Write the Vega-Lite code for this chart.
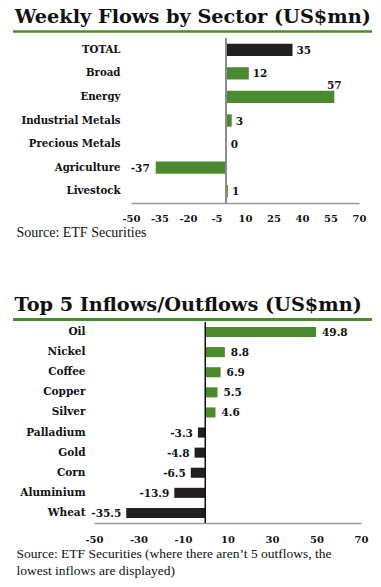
{
  "$schema": "https://vega.github.io/schema/vega-lite/v6.json",
  "background": "white",
  "padding": {"left": 11, "top": 7, "right": 5, "bottom": 3},
  "config": {
    "view": {"stroke": null},
    "locale": {"number": {"decimal": ".", "thousands": ",", "grouping": [3], "currency": ["$", ""], "minus": "-"}}
  },
  "spacing": 56,
  "vconcat": [
    {
      "spacing": 4,
      "vconcat": [
        {
          "width": 359,
          "height": 3,
          "title": {"text": "Weekly Flows by Sector (US$mn)", "anchor": "start", "font": "DejaVu Serif", "fontSize": 19.3, "fontWeight": "bold", "color": "#111111", "offset": 3, "dx": 3},
          "data": {"values": [{"line": 1}]},
          "mark": {"type": "rule", "color": "#4b8a2e", "strokeWidth": 2.5},
          "encoding": {"y": {"datum": 0.5, "type": "quantitative", "scale": {"domain": [0, 1]}, "axis": null}}
        },
        {
          "spacing": 0,
          "hconcat": [
            {
              "width": 3,
              "height": 1,
              "data": {"values": [{"line": 1}]},
              "mark": {"type": "point", "opacity": 0, "size": 0},
              "encoding": {}
            },
            {
              "width": 228,
              "height": 165,
              "data": {"values": [
                {"Sector": "TOTAL", "Flow": 35},
                {"Sector": "Broad", "Flow": 12},
                {"Sector": "Energy", "Flow": 57},
                {"Sector": "Industrial Metals", "Flow": 3},
                {"Sector": "Precious Metals", "Flow": 0.4},
                {"Sector": "Agriculture", "Flow": -37},
                {"Sector": "Livestock", "Flow": 1}
              ]},
              "encoding": {
                "y": {"field": "Sector", "type": "nominal", "sort": null, "scale": {"paddingInner": 0.48, "paddingOuter": 0.24},
                  "axis": {"title": null, "domain": false, "ticks": false, "labelFont": "DejaVu Serif", "labelFontWeight": "bold", "labelFontSize": 10.2, "labelColor": "#111111", "labelPadding": 11}},
                "x": {"field": "Flow", "type": "quantitative", "scale": {"domain": [-50, 70], "nice": false, "zero": false},
                  "axis": {"values": [-50, -35, -20, -5, 10, 25, 40, 55, 70], "format": "d", "grid": false, "ticks": false, "labelFlush": false, "labelOverlap": false, "labelSeparation": 0, "domainColor": "#9a9a9a", "domainWidth": 1.5, "labelFont": "DejaVu Serif", "labelFontWeight": "bold", "labelFontSize": 10, "labelColor": "#111111", "labelPadding": 10,
                    "title": "Source: ETF Securities", "titleFont": "Liberation Serif", "titleFontSize": 14, "titleFontWeight": "normal", "titleColor": "#111111", "titleAnchor": "start", "titleAlign": "left", "titleX": -115, "titlePadding": 2}}
              },
              "layer": [
                {
                  "mark": {"type": "bar"},
                  "encoding": {
                    "color": {"condition": {"test": "datum.Sector === 'TOTAL'", "value": "#231f20"}, "value": "#4b8a2e"}
                  }
                },
                {
                  "transform": [{"filter": "datum.Sector === 'TOTAL'"}],
                  "mark": {"type": "rule", "color": "#8c8c8c", "strokeWidth": 2},
                  "encoding": {"x": {"datum": 0, "type": "quantitative"}, "y": {"value": 0}, "y2": {"value": "height"}}
                },
                {
                  "transform": [{"filter": "datum.Flow >= 0 && datum.Sector !== 'Energy'"}],
                  "mark": {"type": "text", "align": "left", "baseline": "middle", "dx": 4, "dy": 1, "font": "DejaVu Serif", "fontWeight": "bold", "fontSize": 10.5, "color": "#111111"},
                  "encoding": {"text": {"field": "Flow", "type": "quantitative", "format": ".0f"}}
                },
                {
                  "transform": [{"filter": "datum.Sector === 'Energy'"}],
                  "mark": {"type": "text", "align": "center", "baseline": "middle", "dy": -11, "font": "DejaVu Serif", "fontWeight": "bold", "fontSize": 10.5, "color": "#111111"},
                  "encoding": {"text": {"field": "Flow", "type": "quantitative", "format": ".0f"}}
                },
                {
                  "transform": [{"filter": "datum.Flow < 0"}],
                  "mark": {"type": "text", "align": "right", "baseline": "middle", "dx": -6, "dy": 1, "font": "DejaVu Serif", "fontWeight": "bold", "fontSize": 10.5, "color": "#111111"},
                  "encoding": {"text": {"field": "Flow", "type": "quantitative", "format": ".0f"}}
                }
              ]
            }
          ]
        }
      ]
    },
    {
      "spacing": 0,
      "vconcat": [
        {
          "width": 359,
          "height": 3,
          "title": {"text": "Top 5 Inflows/Outflows (US$mn)", "anchor": "start", "font": "DejaVu Serif", "fontSize": 19.3, "fontWeight": "bold", "color": "#111111", "offset": 3, "dx": 3},
          "data": {"values": [{"line": 1}]},
          "mark": {"type": "rule", "color": "#4b8a2e", "strokeWidth": 3},
          "encoding": {"y": {"datum": 0.5, "type": "quantitative", "scale": {"domain": [0, 1]}, "axis": null}}
        },
        {
          "spacing": 0,
          "hconcat": [
            {
              "width": 3,
              "height": 1,
              "data": {"values": [{"line": 1}]},
              "mark": {"type": "point", "opacity": 0, "size": 0},
              "encoding": {}
            },
            {
              "width": 267,
              "height": 201,
              "data": {"values": [
                {"Commodity": "Oil", "Flow": 49.8},
                {"Commodity": "Nickel", "Flow": 8.8},
                {"Commodity": "Coffee", "Flow": 6.9},
                {"Commodity": "Copper", "Flow": 5.5},
                {"Commodity": "Silver", "Flow": 4.6},
                {"Commodity": "Palladium", "Flow": -3.3},
                {"Commodity": "Gold", "Flow": -4.8},
                {"Commodity": "Corn", "Flow": -6.5},
                {"Commodity": "Aluminium", "Flow": -13.9},
                {"Commodity": "Wheat", "Flow": -35.5}
              ]},
              "encoding": {
                "y": {"field": "Commodity", "type": "nominal", "sort": null, "scale": {"paddingInner": 0.5, "paddingOuter": 0.25},
                  "axis": {"title": null, "domain": false, "ticks": false, "labelFont": "DejaVu Serif", "labelFontWeight": "bold", "labelFontSize": 10.5, "labelColor": "#111111", "labelPadding": 9}},
                "x": {"field": "Flow", "type": "quantitative", "scale": {"domain": [-50, 70], "nice": false, "zero": false},
                  "axis": {"values": [-50, -30, -10, 10, 30, 50, 70], "format": "d", "grid": false, "ticks": false, "labelFlush": false, "labelOverlap": false, "domainColor": "#9a9a9a", "domainWidth": 1.5, "labelFont": "DejaVu Serif", "labelFontWeight": "bold", "labelFontSize": 10, "labelColor": "#111111", "labelPadding": 11,
                    "title": ["Source: ETF Securities (where there aren’t 5 outflows, the", "lowest inflows are displayed)"], "titleFont": "Liberation Serif", "titleFontSize": 13.5, "titleLineHeight": 17, "titleFontWeight": "normal", "titleColor": "#111111", "titleAnchor": "start", "titleAlign": "left", "titleX": -78, "titlePadding": 2}}
              },
              "layer": [
                {
                  "mark": {"type": "bar"},
                  "encoding": {
                    "color": {"condition": {"test": "datum.Flow < 0", "value": "#231f20"}, "value": "#4b8a2e"}
                  }
                },
                {
                  "transform": [{"filter": "datum.Commodity === 'Oil'"}],
                  "mark": {"type": "rule", "color": "#111111", "strokeWidth": 1.5},
                  "encoding": {"x": {"datum": 0, "type": "quantitative"}, "y": {"value": 0}, "y2": {"value": "height"}}
                },
                {
                  "transform": [{"filter": "datum.Flow >= 0"}],
                  "mark": {"type": "text", "align": "left", "baseline": "middle", "dx": 6, "dy": 1, "font": "DejaVu Serif", "fontWeight": "bold", "fontSize": 10.5, "color": "#111111"},
                  "encoding": {"text": {"field": "Flow", "type": "quantitative", "format": ".1f"}}
                },
                {
                  "transform": [{"filter": "datum.Flow < 0"}],
                  "mark": {"type": "text", "align": "right", "baseline": "middle", "dx": -5, "dy": 1, "font": "DejaVu Serif", "fontWeight": "bold", "fontSize": 10.5, "color": "#111111"},
                  "encoding": {"text": {"field": "Flow", "type": "quantitative", "format": ".1f"}}
                }
              ]
            }
          ]
        }
      ]
    }
  ]
}
